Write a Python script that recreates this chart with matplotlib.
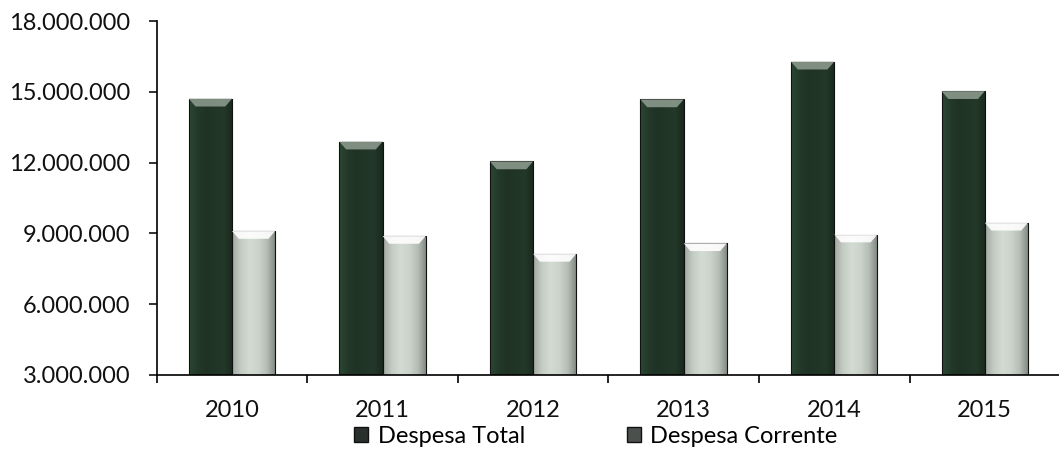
import matplotlib

matplotlib.use("Agg")
import matplotlib.pyplot as plt
import numpy as np
from matplotlib.patches import Patch, Polygon
from matplotlib.ticker import FuncFormatter, FixedLocator

anos = ["2010", "2011", "2012", "2013", "2014", "2015"]
despesa_total = [14.71e6, 12.89e6, 12.05e6, 14.68e6, 16.28e6, 15.03e6]
despesa_corrente = [9.10e6, 8.89e6, 8.13e6, 8.58e6, 8.95e6, 9.45e6]
series_names = ["Despesa Total", "Despesa Corrente"]

plt.rcParams["font.family"] = ["Lato", "DejaVu Sans"]

fig = plt.figure(figsize=(10.59, 4.5), dpi=100)
ax = fig.add_axes([0.148, 0.167, 0.853, 0.786])

x = np.arange(len(anos))
w = 0.287
YMIN, YMAX = 3e6, 18e6

# horizontal shading profiles for the "bevelled" bars
prof = np.linspace(0, 1, 64)
dark_grad = np.array([0.28, 0.22, 0.20, 0.21, 0.22, 0.16])
light_grad = np.array([0.66, 0.80, 0.86, 0.83, 0.74, 0.52])


def shade(profile, base):
    vals = np.interp(prof, np.linspace(0, 1, len(profile)), profile)
    rgb = np.outer(vals, base) / max(base)
    return rgb[None, :, :].clip(0, 1)


dark_img = shade(dark_grad, np.array([0.62, 1.0, 0.72]))
light_img = shade(light_grad, np.array([0.96, 1.0, 0.96]))

dx = 0.045
dy = 0.33e6
for offs, vals, img, bevel in [(-w / 2, despesa_total, dark_img, "#8a998c"),
                               (w / 2, despesa_corrente, light_img, "#ffffff")]:
    bars = ax.bar(x + offs, np.array(vals) - YMIN, w, bottom=YMIN,
                  color="none", edgecolor="#111111", linewidth=0.8, zorder=3)
    for b in bars:
        x0, y0 = b.get_x(), b.get_y()
        x1, y1 = x0 + b.get_width(), y0 + b.get_height()
        im = ax.imshow(img, extent=(x0, x1, y0, y1), aspect="auto",
                       interpolation="bilinear", zorder=2)
        im.set_clip_path(b)
        ax.add_patch(Polygon([(x0, y1), (x1, y1), (x1 - dx, y1 - dy),
                              (x0 + dx, y1 - dy)], closed=True,
                             facecolor=bevel, edgecolor="none", alpha=0.9,
                             zorder=4))

ax.set_xlim(-0.5, len(anos) - 0.5)
ax.set_ylim(YMIN, YMAX)
ax.set_yticks(np.arange(3e6, 18e6 + 1, 3e6))
ax.yaxis.set_major_formatter(
    FuncFormatter(lambda v, _: f"{v:,.0f}".replace(",", ".")))
ax.set_xticks(x)
ax.set_xticklabels(anos)
ax.xaxis.set_minor_locator(FixedLocator(np.arange(-0.5, len(anos), 1.0)))

for s in ["top", "right"]:
    ax.spines[s].set_visible(False)
ax.spines["left"].set_linewidth(1.2)
ax.spines["bottom"].set_linewidth(1.2)
ax.tick_params(axis="y", length=6, width=1.2, pad=13, labelsize=17,
               colors="#111111")
ax.tick_params(axis="x", which="major", length=0, pad=18, labelsize=17,
               colors="#111111")
ax.tick_params(axis="x", which="minor", length=6, width=1.2)

handles = [Patch(facecolor="#2a302b", edgecolor="#111111"),
           Patch(facecolor="#4c504c", edgecolor="#111111")]
ax.legend(handles, series_names, loc="center", bbox_to_anchor=(0.486, -0.175),
          ncol=2, frameon=False, fontsize=17, handlelength=0.6,
          handleheight=0.6, handletextpad=0.4, columnspacing=4.3,
          borderaxespad=0)

fig.savefig("out.png", dpi=100)
